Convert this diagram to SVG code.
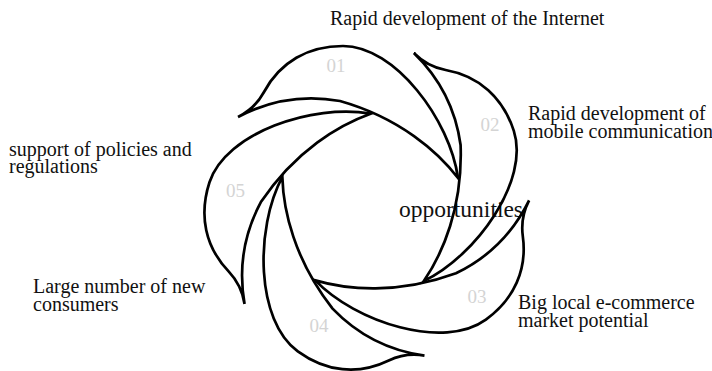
<svg xmlns="http://www.w3.org/2000/svg" xmlns:xlink="http://www.w3.org/1999/xlink" width="712" height="371" viewBox="0 0 712 371">
  <style>
    .petal { fill: none; stroke: #000; stroke-width: 2.7; stroke-linejoin: miter; stroke-miterlimit: 20; }
    .num { font-family: "Liberation Serif", "Times New Roman", serif; font-size: 19px; fill: #d4d4d4; text-anchor: middle; }
    .label { font-family: "Liberation Serif", "Times New Roman", serif; font-size: 20px; fill: #111; }
    .center { font-family: "Liberation Serif", "Times New Roman", serif; font-size: 23.5px; fill: #111; }
  </style>
  <defs>
    <!-- one swirl petal: outer tip at the upper left, inner tip near the hub (370,206) -->
    <path id="petal" d="M 238,117 C 250,111 258,103 264,92 C 280,62 308,46 343,46 C 395,46 450,120 458,178 C 438,152 400,118 340,101 C 290,92 255,108 238,117 Z"/>
  </defs>

  <rect width="712" height="371" fill="#fff"/>

  <g id="hub">
    <text class="center" x="399" y="217">opportunities</text>
  </g>

  <g id="node-01">
    <use xlink:href="#petal" class="petal"/>
    <text class="num" x="336" y="72">01</text>
    <text class="label" x="330" y="25">Rapid development of the Internet</text>
  </g>

  <g id="node-02">
    <use xlink:href="#petal" class="petal" transform="rotate(72 370 206)"/>
    <text class="num" x="490" y="131">02</text>
    <text class="label" x="528" y="120">Rapid development of</text>
    <text class="label" x="528" y="137.5">mobile communication</text>
  </g>

  <g id="node-03">
    <use xlink:href="#petal" class="petal" transform="rotate(144 370 206)"/>
    <text class="num" x="477" y="303">03</text>
    <text class="label" x="518" y="309">Big local e-commerce</text>
    <text class="label" x="518" y="326.5">market potential</text>
  </g>

  <g id="node-04">
    <use xlink:href="#petal" class="petal" transform="rotate(216 370 206)"/>
    <text class="num" x="319" y="332">04</text>
    <text class="label" x="33" y="293">Large number of new</text>
    <text class="label" x="33" y="310.5">consumers</text>
  </g>

  <g id="node-05">
    <use xlink:href="#petal" class="petal" transform="rotate(288 370 206)"/>
    <text class="num" x="235.5" y="197">05</text>
    <text class="label" x="9" y="156">support of policies and</text>
    <text class="label" x="9" y="173">regulations</text>
  </g>
</svg>
